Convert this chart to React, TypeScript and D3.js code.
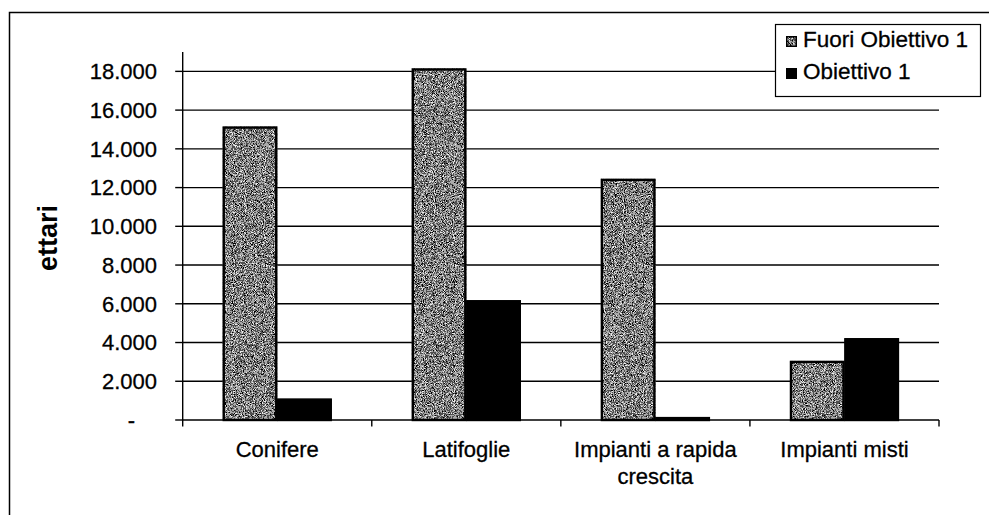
import React, { useRef, useEffect } from "react";
import * as d3 from "d3";

const categories = ["Conifere", "Latifoglie", "Impianti a rapida crescita", "Impianti misti"];
const seriesNames = ["Fuori Obiettivo 1", "Obiettivo 1"];
const fuoriObiettivo = [15150, 18150, 12450, 3050];
const obiettivo = [1100, 6180, 150, 4220];
const yTicks = [0, 2000, 4000, 6000, 8000, 10000, 12000, 14000, 16000, 18000];
const yMax = 19000;

const FONT = "'Liberation Sans', Arial, sans-serif";

const App = () => {
  const ref = useRef<SVGSVGElement>(null);

  useEffect(() => {
    const svg = d3.select(ref.current);
    svg.selectAll("*").remove();

    const left = 182.7;
    const right = 939;
    const top = 52;
    const bottom = 420;

    const itLocale = d3.formatLocale({ decimal: ",", thousands: ".", grouping: [3], currency: ["", " €"] });
    const fmt = itLocale.format(",d");

    // speckled grey fill like the scanned pattern
    const defs = svg.append("defs");
    const filter = defs
      .append("filter")
      .attr("id", "speckle")
      .attr("x", 0)
      .attr("y", 0)
      .attr("width", "100%")
      .attr("height", "100%");
    filter
      .append("feTurbulence")
      .attr("type", "fractalNoise")
      .attr("baseFrequency", 1.1)
      .attr("numOctaves", 2)
      .attr("seed", 4)
      .attr("result", "noise");
    filter
      .append("feColorMatrix")
      .attr("in", "noise")
      .attr("type", "matrix")
      .attr("values", "1 0 0 0 0  1 0 0 0 0  1 0 0 0 0  0 0 0 0 1")
      .attr("result", "grey");
    const ct = filter.append("feComponentTransfer").attr("in", "grey").attr("result", "steps");
    ["feFuncR", "feFuncG", "feFuncB"].forEach((f) =>
      ct.append(f).attr("type", "discrete").attr("tableValues", "0 0 0.08 0.4 0.85 1")
    );
    filter
      .append("feComposite")
      .attr("in", "steps")
      .attr("in2", "SourceGraphic")
      .attr("operator", "in");

    // outer frame (right and bottom edges cut off in the scan)
    svg
      .append("path")
      .attr("d", "M9.5,520 L9.5,12.5 L995,12.5")
      .attr("fill", "none")
      .attr("stroke", "#000")
      .attr("stroke-width", 1.5);

    const x0 = d3.scaleBand().domain(categories).range([left, right]).paddingInner(0).paddingOuter(0);
    const x1 = d3.scaleBand().domain(seriesNames).range([0, x0.bandwidth()]).paddingInner(0).paddingOuter(0.735);
    const y = d3.scaleLinear().domain([0, yMax]).range([bottom, top]);

    // gridlines
    svg
      .append("g")
      .selectAll("line")
      .data(yTicks.filter((t) => t > 0))
      .enter()
      .append("line")
      .attr("x1", left)
      .attr("x2", right)
      .attr("y1", (d) => y(d))
      .attr("y2", (d) => y(d))
      .attr("stroke", "#000")
      .attr("stroke-width", 1.4);

    // bars
    const rows = categories.map((c, i) => ({
      category: c,
      values: [
        { key: seriesNames[0], value: fuoriObiettivo[i] },
        { key: seriesNames[1], value: obiettivo[i] },
      ],
    }));

    const groups = svg
      .append("g")
      .selectAll("g")
      .data(rows)
      .enter()
      .append("g")
      .attr("transform", (d) => `translate(${x0(d.category)},0)`);

    groups
      .selectAll("rect")
      .data((d) => d.values)
      .enter()
      .append("rect")
      .attr("x", (d) => x1(d.key)!)
      .attr("y", (d) => y(d.value))
      .attr("width", x1.bandwidth())
      .attr("height", (d) => y(0) - y(d.value))
      .attr("fill", (d) => (d.key === seriesNames[0] ? "#777" : "#000"))
      .attr("filter", (d) => (d.key === seriesNames[0] ? "url(#speckle)" : null));

    groups
      .selectAll("rect.edge")
      .data((d) => d.values)
      .enter()
      .append("rect")
      .attr("class", "edge")
      .attr("x", (d) => x1(d.key)! + 1)
      .attr("y", (d) => y(d.value) + 1)
      .attr("width", x1.bandwidth() - 2)
      .attr("height", (d) => Math.max(0, y(0) - y(d.value) - 1))
      .attr("fill", "none")
      .attr("stroke", "#000")
      .attr("stroke-width", 2.4);

    // y axis
    svg
      .append("line")
      .attr("x1", left)
      .attr("x2", left)
      .attr("y1", top)
      .attr("y2", bottom)
      .attr("stroke", "#000")
      .attr("stroke-width", 1.4);
    svg
      .append("g")
      .selectAll("line")
      .data(yTicks)
      .enter()
      .append("line")
      .attr("x1", left - 7.5)
      .attr("x2", left)
      .attr("y1", (d) => y(d))
      .attr("y2", (d) => y(d))
      .attr("stroke", "#000")
      .attr("stroke-width", 1.4);
    svg
      .append("g")
      .selectAll("text")
      .data(yTicks)
      .enter()
      .append("text")
      .attr("x", (d) => (d === 0 ? 135 : 157))
      .attr("y", (d) => y(d))
      .attr("dy", "0.36em")
      .attr("text-anchor", "end")
      .attr("font-family", FONT)
      .attr("font-size", 22)
      .attr("stroke", "#000")
      .attr("stroke-width", 0.3)
      .text((d) => (d === 0 ? "-" : fmt(d)));

    // x axis
    svg
      .append("line")
      .attr("x1", left)
      .attr("x2", right)
      .attr("y1", bottom)
      .attr("y2", bottom)
      .attr("stroke", "#000")
      .attr("stroke-width", 1.6);
    const edges = categories.map((c) => x0(c)!).concat([right]);
    svg
      .append("g")
      .selectAll("line")
      .data(edges)
      .enter()
      .append("line")
      .attr("x1", (d) => d)
      .attr("x2", (d) => d)
      .attr("y1", bottom)
      .attr("y2", bottom + 6.5)
      .attr("stroke", "#000")
      .attr("stroke-width", 1.4);

    const labels = svg
      .append("g")
      .selectAll("text")
      .data(categories)
      .enter()
      .append("text")
      .attr("x", (d) => x0(d)! + x0.bandwidth() / 2)
      .attr("y", 457)
      .attr("text-anchor", "middle")
      .attr("font-family", FONT)
      .attr("font-size", 22)
      .attr("stroke", "#000")
      .attr("stroke-width", 0.3);

    // wrap long category names within the band
    labels.each(function (d) {
      const text = d3.select(this);
      const words = d.split(" ");
      const maxW = x0.bandwidth() - 4;
      let line: string[] = [];
      let tspan = text.append("tspan").attr("x", text.attr("x")).attr("dy", 0);
      words.forEach((w) => {
        line.push(w);
        tspan.text(line.join(" "));
        const node = tspan.node() as SVGTSpanElement;
        if (node.getComputedTextLength() > maxW && line.length > 1) {
          line.pop();
          tspan.text(line.join(" "));
          line = [w];
          tspan = text.append("tspan").attr("x", text.attr("x")).attr("dy", 27).text(w);
        }
      });
    });

    // axis title
    svg
      .append("text")
      .attr("transform", "translate(57,238) rotate(-90)")
      .attr("text-anchor", "middle")
      .attr("font-family", FONT)
      .attr("font-weight", "bold")
      .attr("font-size", 27)
      .text("ettari");

    // legend
    const legend = svg.append("g");
    legend
      .append("rect")
      .attr("x", 775.5)
      .attr("y", 24.5)
      .attr("width", 205)
      .attr("height", 72)
      .attr("fill", "#fff")
      .attr("stroke", "#000")
      .attr("stroke-width", 1.2);
    const items = legend
      .selectAll("g")
      .data(seriesNames)
      .enter()
      .append("g")
      .attr("transform", (d, i) => `translate(786,${36 + i * 32})`);
    items
      .append("rect")
      .attr("width", 11)
      .attr("height", 11)
      .attr("fill", (d, i) => (i === 0 ? "#777" : "#000"))
      .attr("filter", (d, i) => (i === 0 ? "url(#speckle)" : null));
    items
      .filter((d, i) => i === 0)
      .append("rect")
      .attr("x", 0.75)
      .attr("y", 0.75)
      .attr("width", 9.5)
      .attr("height", 9.5)
      .attr("fill", "none")
      .attr("stroke", "#000")
      .attr("stroke-width", 1.5);
    items
      .append("text")
      .attr("x", 17)
      .attr("y", 11)
      .attr("font-family", FONT)
      .attr("font-size", 22.5)
      .attr("stroke", "#000")
      .attr("stroke-width", 0.3)
      .text((d) => d);
  }, []);

  return (
    <svg
      ref={ref}
      width={989}
      height={515}
      style={{ position: "absolute", left: 0, top: 0, background: "#fff" }}
    ></svg>
  );
};

export default App;
